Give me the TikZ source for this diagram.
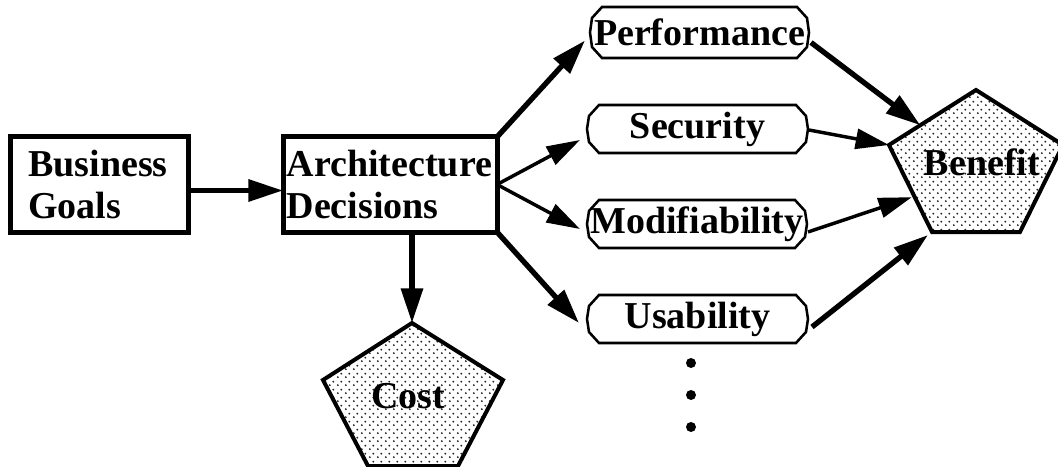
\documentclass[tikz,border=0pt]{standalone}
\usepackage{fontspec}
\setmainfont{Liberation Serif}
\usetikzlibrary{arrows.meta,calc,patterns.meta}

% sparse staggered stipple used inside the pentagons
\tikzdeclarepattern{
  name=stipple,
  type=uncolored,
  bounding box={(0pt,0pt) and (6pt,6pt)},
  tile size={(6pt,6pt)},
  code={
    \pgfpathcircle{\pgfqpoint{1.5pt}{1.5pt}}{0.85pt}
    \pgfpathcircle{\pgfqpoint{4.5pt}{4.5pt}}{0.85pt}
    \pgfusepath{fill}
  }
}

% ten-sided frame around a quality-attribute node
\newcommand\drawoct[1]{%
  \draw[octline] ($(#1.north west)+(12,0)$) -- ($(#1.north east)+(-12,0)$)
    -- ($(#1.north east)+(-2,11)$) -- (#1.east) -- ($(#1.south east)+(-2,-11)$)
    -- ($(#1.south east)+(-12,0)$) -- ($(#1.south west)+(12,0)$)
    -- ($(#1.south west)+(2,-11)$) -- (#1.west) -- ($(#1.north west)+(2,11)$) -- cycle;}

\begin{document}
\begin{tikzpicture}[
  x=0.75pt, y=-0.75pt,
  every node/.style={font=\bfseries\fontsize{28.5}{31.5}\selectfont, outer sep=0pt},
  decision/.style={draw, line width=3.75pt, minimum width=#1, minimum height=71.25pt, inner sep=0pt},
  quality/.style={minimum width=#1, minimum height=36pt, inner sep=0pt},
  octline/.style={line width=1.9pt, line join=miter},
  pent/.style={draw, line width=3pt, line join=miter, pattern=stipple, pattern color=black!85},
  heavy/.style={line width=4pt, -{Triangle[length=26pt,width=16pt]}},
  light/.style={line width=2.6pt, -{Triangle[length=25pt,width=15pt]}},
  dotmark/.style={circle, fill, inner sep=0pt, minimum size=7.5pt}
]
\useasboundingbox (0,0) rectangle (1058,467);

% decision boxes
\node[decision=133.5pt, text width=106pt, align=left] (biz) at (99,184.5) {Business\\Goals};
\node[decision=160.5pt, text width=155pt, align=left] (arch) at (390,184.5) {Architecture\\Decisions};

% quality attributes
\node[quality=164.25pt, minimum height=38.25pt] (perf) at (699.5,32.5) {Performance};
\node[quality=165.75pt] (sec) at (697.5,129) {Security};
\node[quality=165pt] (mod) at (697,224) {Modifiability};
\node[quality=165.75pt] (usa) at (697.5,319) {Usability};
\drawoct{perf}
\drawoct{sec}
\drawoct{mod}
\drawoct{usa}

% continuation dots
\node[dotmark] (d1) at (691,363) {};
\node[dotmark] (d2) at (691,395) {};
\node[dotmark] (d3) at (691,427) {};

% benefit pentagon
\coordinate (bT) at (976,90);
\coordinate (bR) at (1063,145);
\coordinate (bBR) at (1020,232);
\coordinate (bBL) at (932,232);
\coordinate (bL) at (889,145);
\draw[pent] (bT) -- (bR) -- (bBR) -- (bBL) -- (bL) -- cycle;
\node (benefit) at (982,162) {Benefit};

% cost pentagon
\coordinate (cT) at (412,323);
\coordinate (cR) at (503,380);
\coordinate (cBR) at (458,466);
\coordinate (cBL) at (368,466);
\coordinate (cL) at (323,380);
\draw[pent] (cT) -- (cR) -- (cBR) -- (cBL) -- (cL) -- cycle;
\node (cost) at (408,396) {Cost};

% connectors
\draw[heavy] ($(biz.east)+(0,6)$) -- ($(arch.west)+(0,6)$);
\draw[heavy] (arch.south -| cT) -- (cT);
\draw[heavy] (arch.north east) -- ($(perf.west)+(-5,8)$);
\draw[light] (arch.east) -- ($(sec.west)+(-7,11)$);
\draw[light] (arch.east) -- ($(mod.west)+(-7,5)$);
\draw[heavy] (arch.south east) -- ($(usa.west)+(-8,4)$);

\draw[heavy] ($(perf.east)+(2,10)$) -- ($(bL)!0.36!(bT)$);
\draw[light] ($(sec.east)+(1,1)$) -- (bL);
\draw[light] ($(mod.east)+(1,8)$) -- ($(bL)!0.6!(bBL)+(-3,0)$);
\draw[heavy] ($(usa.east)+(4,8)$) -- ($(bBL)+(-4,3)$);
\end{tikzpicture}
\end{document}
